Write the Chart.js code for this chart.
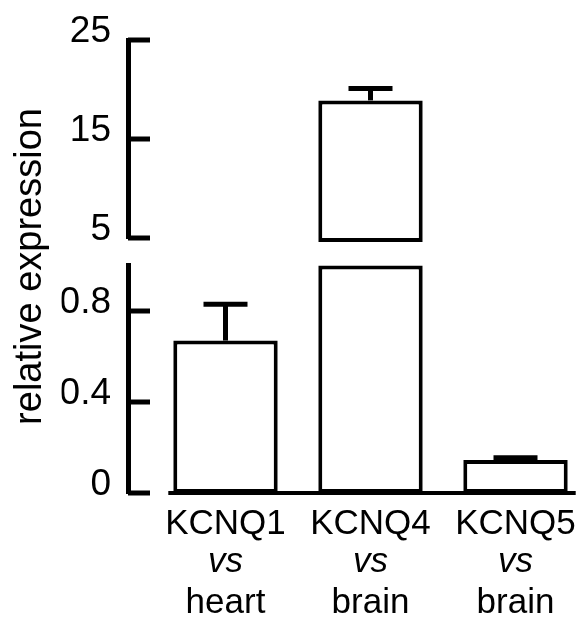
<!DOCTYPE html>
<html>
<head>
<meta charset="utf-8">
<script src="https://cdn.jsdelivr.net/npm/chart.js@4.4.1/dist/chart.umd.min.js"></script>
<style>
  html, body { margin: 0; padding: 0; background: #ffffff; }
  canvas { display: block; }
</style>
</head>
<body>
<canvas id="c" width="582" height="620"></canvas>
<script>
// ---- data ----
const categories = ['KCNQ1', 'KCNQ4', 'KCNQ5'];
const versusLabels = ['vs', 'vs', 'vs'];
const tissues = ['heart', 'brain', 'brain'];
const values = [0.67, 18.9, 0.145];
const errorTops = [0.83, 20.1, 0.155];
const lowerRange = [0, 1];
const upperRange = [5, 25];
const lowerTickLabels = ['0', '0.4', '0.8'];
const upperTickLabels = ['5', '15', '25'];
const breakBase = 4.6;

// ---- layout constants ----
const FONT = "'Liberation Sans', Arial, Helvetica, sans-serif";
const xMin = -0.6724, xMax = 2.4448;
const yAxisWidth = 66.4;

Chart.defaults.font.family = FONT;
Chart.defaults.color = '#000';

const lowerData = values.map((v, i) => ({ x: i, y: Math.min(v, lowerRange[1]) }));
const upperData = values.map((v, i) => ({ x: i, y: v > lowerRange[1] ? [breakBase, v] : null }));

const barStyle = {
  backgroundColor: '#ffffff',
  borderColor: '#000000',
  borderWidth: 4,
  borderSkipped: false,
  grouped: false,
  barPercentage: 1,
  categoryPercentage: 0.72,
  clip: false
};

function xAxis(labels, style, weight, pad, height) {
  return {
    type: 'linear', position: 'bottom', min: xMin, max: xMax, weight: weight,
    offset: false,
    grid: { display: false, drawTicks: false, offset: false },
    border: { display: false },
    ticks: {
      stepSize: 1, autoSkip: false, includeBounds: false, maxRotation: 0, minRotation: 0,
      padding: pad, color: '#000',
      font: { size: 35, style: style, lineHeight: 1 },
      callback: v => Number.isInteger(v) ? (labels[v] ?? '') : ''
    },
    afterFit: s => { s.height = height; s.paddingLeft = 0; s.paddingRight = 0; }
  };
}

function yAxis(range, step, labels, weightVal, stackW) {
  return {
    type: 'linear', position: 'left', min: range[0], max: range[1],
    stack: 'ys', stackWeight: stackW, weight: weightVal,
    grid: { display: false, drawTicks: false },
    border: { display: true, color: '#000', width: 5 },
    ticks: {
      stepSize: step, padding: 17, labelOffset: -8, color: '#000',
      font: { size: 37, lineHeight: 1.2 },
      callback: v => { const s = String(Math.round(v * 10) / 10); return labels.includes(s) ? s : ''; }
    },
    afterFit: s => { s.width = yAxisWidth; }
  };
}

const overlay = {
  id: 'overlay',
  afterDatasetsDraw(chart) {
    const ctx = chart.ctx;
    const yLow = chart.scales.yLow, yUp = chart.scales.yUp;
    const meta = chart.getDatasetMeta(0);
    ctx.save();
    ctx.strokeStyle = '#000';
    ctx.lineCap = 'butt';
    // baseline under the bars
    const b0 = meta.data[0], bN = meta.data[meta.data.length - 1];
    const y0 = yLow.getPixelForValue(0);
    ctx.lineWidth = 4;
    ctx.beginPath();
    ctx.moveTo(b0.x - b0.width / 2 - 5, y0);
    ctx.lineTo(bN.x + bN.width / 2 + 8, y0);
    ctx.stroke();
    // error bars
    values.forEach((v, i) => {
      const sc = v > lowerRange[1] ? yUp : yLow;
      const bar = meta.data[i];
      const yTop = sc.getPixelForValue(v);
      const yErr = sc.getPixelForValue(errorTops[i]);
      ctx.lineWidth = 5;
      ctx.beginPath(); ctx.moveTo(bar.x, yTop); ctx.lineTo(bar.x, yErr); ctx.stroke();
      ctx.beginPath(); ctx.moveTo(bar.x - 22, yErr); ctx.lineTo(bar.x + 22, yErr); ctx.stroke();
    });
    // inward tick marks on the broken y axis
    [yUp, yLow].forEach(s => {
      s.ticks.forEach(t => {
        const y = s.getPixelForValue(t.value);
        const len = t.label ? 22 : 12;
        ctx.lineWidth = 5;
        ctx.beginPath(); ctx.moveTo(s.right, y); ctx.lineTo(s.right + len, y); ctx.stroke();
      });
    });
    ctx.restore();
  }
};

new Chart(document.getElementById('c'), {
  type: 'bar',
  data: {
    datasets: [
      Object.assign({ label: 'lower', data: lowerData, xAxisID: 'x', yAxisID: 'yLow' }, barStyle),
      Object.assign({ label: 'upper', data: upperData, xAxisID: 'x', yAxisID: 'yUp' }, barStyle)
    ]
  },
  options: {
    responsive: false,
    devicePixelRatio: 1,
    animation: false,
    layout: { autoPadding: false, padding: { left: 0, top: 40, right: 2, bottom: 0 } },
    plugins: {
      legend: { display: false },
      tooltip: { enabled: false },
      title: {
        display: true, text: 'relative expression', position: 'left', fullSize: false,
        color: '#000', font: { size: 38, weight: 'normal', lineHeight: 1.2 },
        padding: { top: 8, bottom: 8 }
      }
    },
    scales: {
      x: xAxis(categories, 'normal', 1, 14, 50),
      x2: xAxis(versusLabels, 'italic', 2, 1.5, 38),
      x3: xAxis(tissues, 'normal', 3, 4.5, 39),
      yLow: yAxis(lowerRange, 0.2, lowerTickLabels, 1, 227.5),
      yGap: {
        type: 'linear', position: 'left', stack: 'ys', stackWeight: 27.5, weight: 2,
        grid: { display: false, drawTicks: false }, border: { display: false },
        ticks: { display: false },
        afterFit: s => { s.width = yAxisWidth; }
      },
      yUp: yAxis(upperRange, 5, upperTickLabels, 3, 198)
    }
  },
  plugins: [overlay]
});
</script>
</body>
</html>
